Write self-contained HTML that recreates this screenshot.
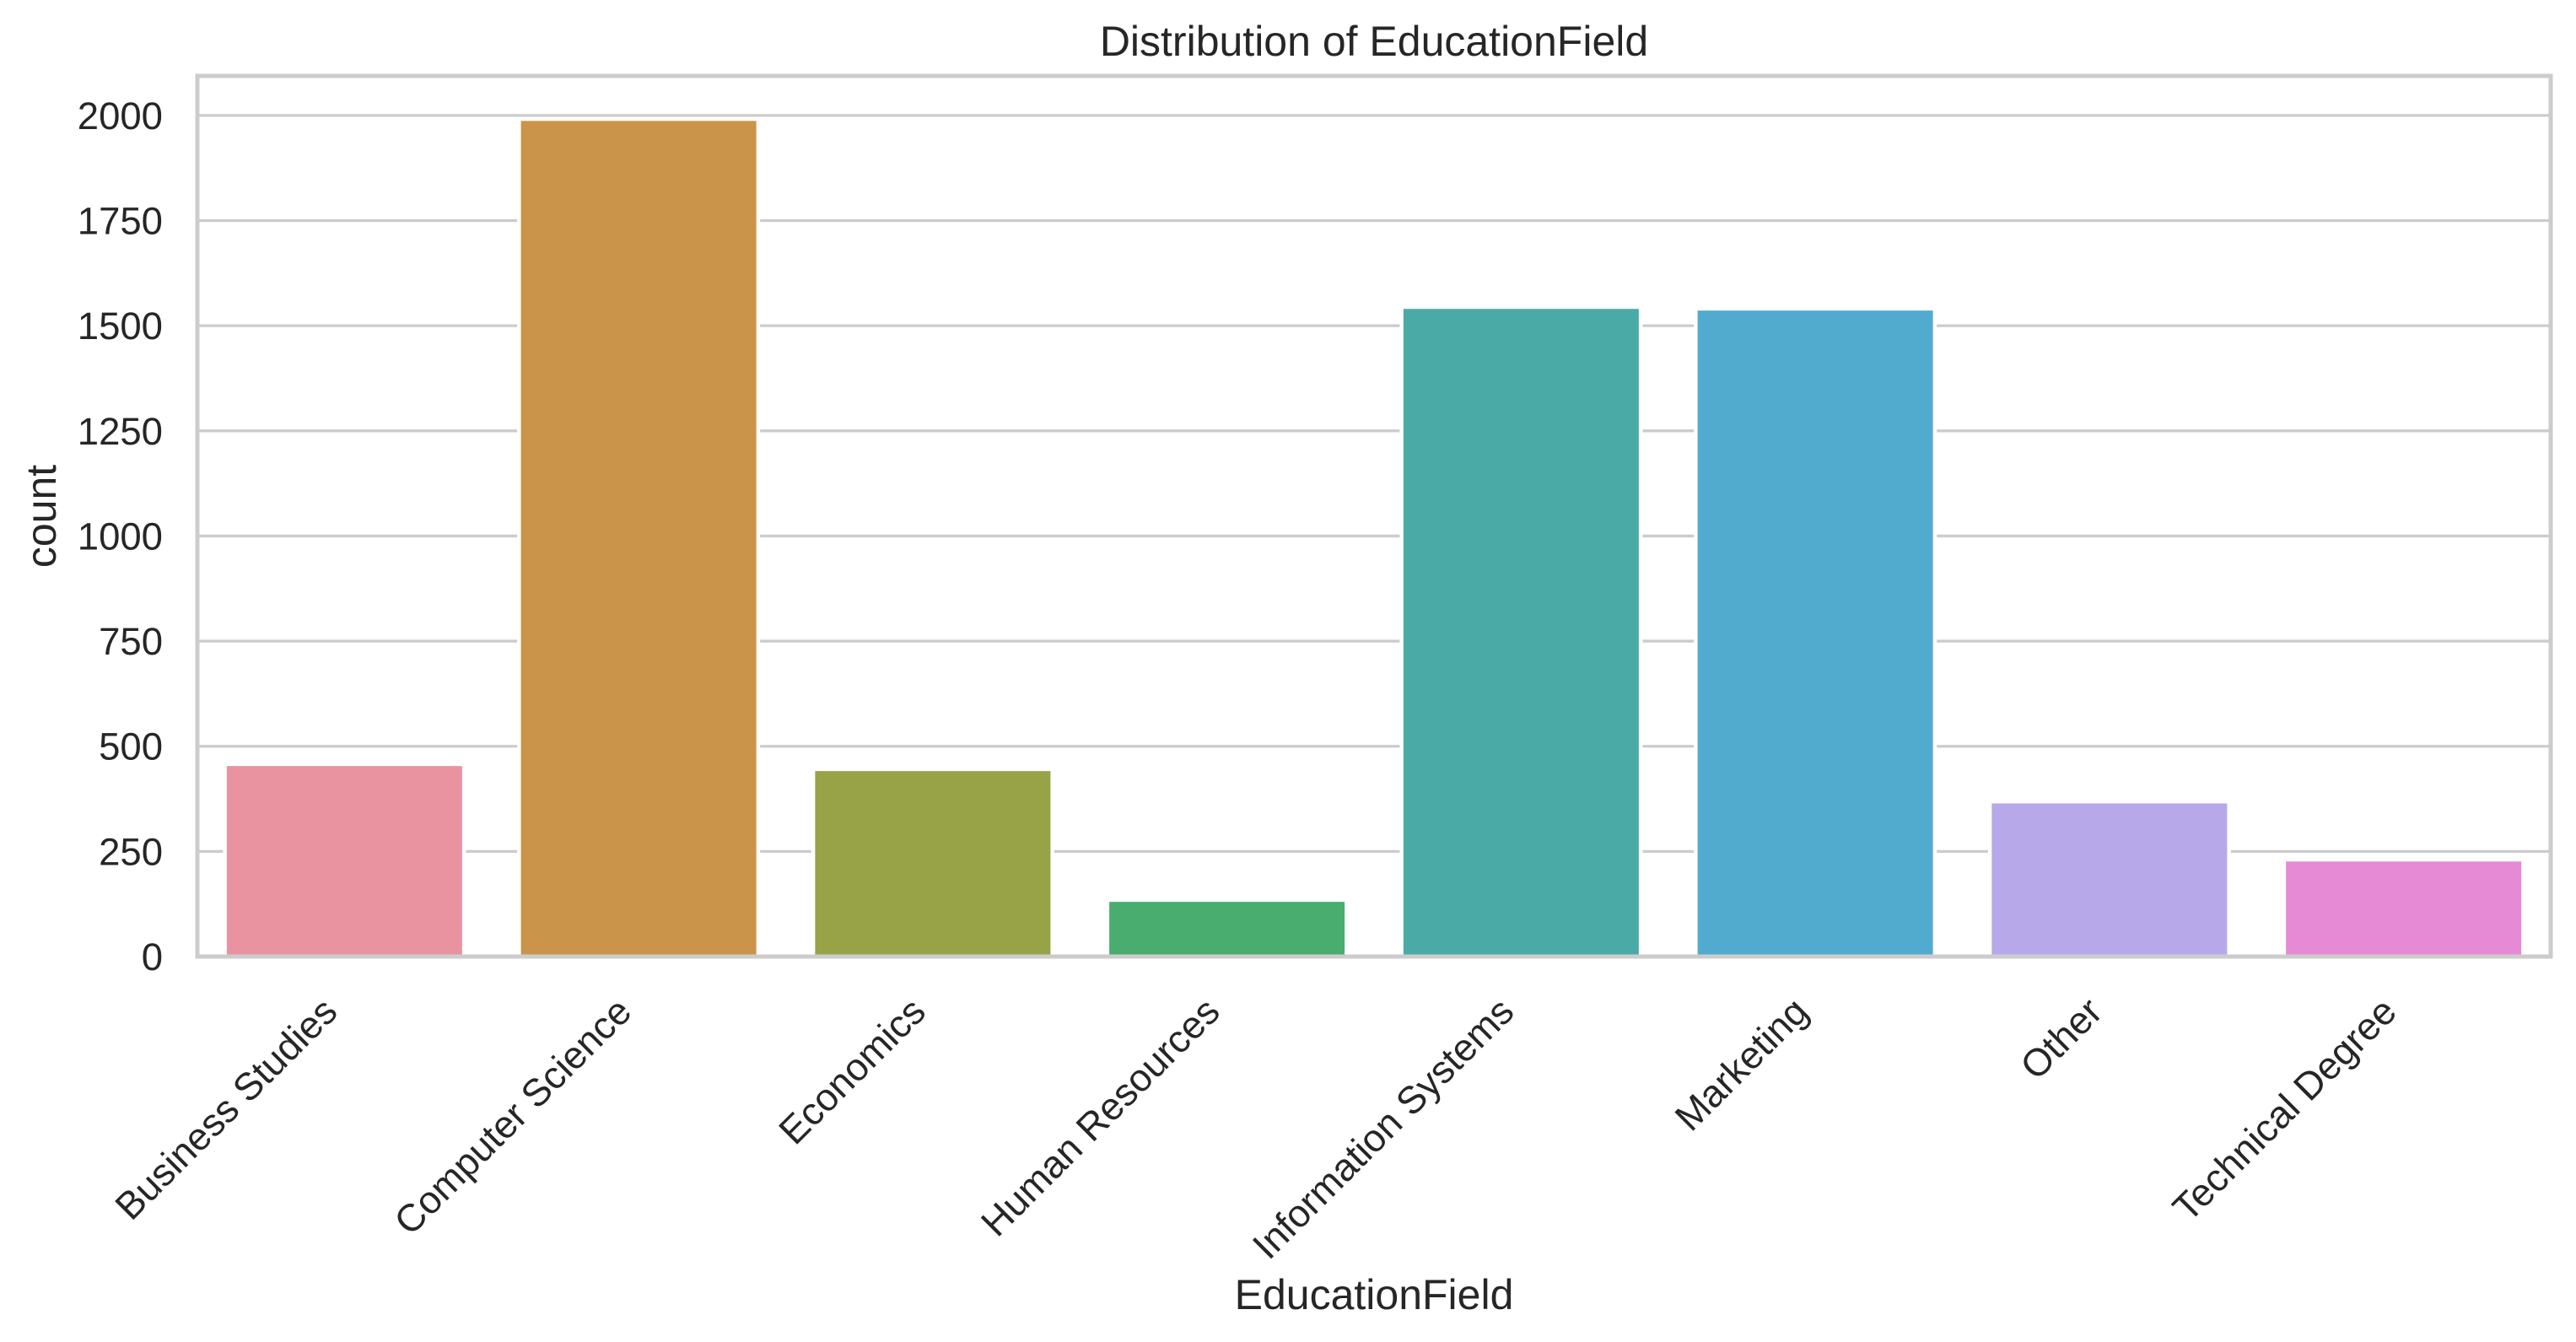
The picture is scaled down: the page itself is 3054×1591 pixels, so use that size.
<!DOCTYPE html>
<html><head><meta charset="utf-8"><style>
html,body{margin:0;padding:0;background:#fff;}
svg{display:block;}
text{font-family:"Liberation Sans",Arial,sans-serif;fill:#262626;}
</style></head><body>
<svg id="chart" width="3054" height="1591" viewBox="0 0 3054 1591" xmlns="http://www.w3.org/2000/svg">
<rect width="3054" height="1591" fill="#fff"/>
<g id="grid"></g>
<g id="bars"></g>
<g id="spines"></g>
<g id="yticks"></g>
<g id="xticks"></g>
<text x="1629" y="66" font-size="50" text-anchor="middle">Distribution of EducationField</text>
<text x="0" y="0" font-size="50" text-anchor="middle" transform="translate(66,612) rotate(-90)">count</text>
<text x="1629" y="1552" font-size="50" text-anchor="middle">EducationField</text>
</svg>
<script>
const categories = ["Business Studies","Computer Science","Economics","Human Resources","Information Systems","Marketing","Other","Technical Degree"];
const counts = [453, 1987, 441, 130, 1540, 1536, 364, 226];
const colors = ["#e8939f","#ca954a","#98a348","#48ad6f","#4aaaa6","#51abcf","#b6a8e9","#e68ad6"];
const yTicks = [0,250,500,750,1000,1250,1500,1750,2000];

const NS = "http://www.w3.org/2000/svg";
const L = 234, R = 3024, T = 90, B = 1134;
const yMin = 0, yMax = 2094;
const band = (R - L) / categories.length;
function xCenter(i){ return L + band * (i + 0.5); }
function yPos(v){ return B - (v - yMin) / (yMax - yMin) * (B - T); }
function mk(tag, attrs, parent){
  const e = document.createElementNS(NS, tag);
  for (const k in attrs) e.setAttribute(k, attrs[k]);
  parent.appendChild(e);
  return e;
}
const grid = document.getElementById('grid');
const barsG = document.getElementById('bars');
const spines = document.getElementById('spines');
const yt = document.getElementById('yticks');
const xt = document.getElementById('xticks');

yTicks.forEach(v => {
  const y = yPos(v);
  const g = mk('line', {x1:L, x2:R, y1:y, y2:y, stroke:'#cccccc', 'stroke-width':3.3}, grid);
  
  
  const t = mk('text', {x:193, y:y+16, 'font-size':45.5, 'text-anchor':'end'}, yt);
  t.textContent = v;
  
  
});

categories.forEach((c, i) => {
  const w = band * 0.8;
  const x = xCenter(i) - w / 2;
  const y = yPos(counts[i]);
  const bg = mk('rect', {x:x-4.5, y:y-4.5, width:w+9, height:B-y+4.5, fill:'#fff'}, barsG);
  
  
  const r = mk('rect', {x:x, y:y, width:w, height:B-y, fill:colors[i]}, barsG);
  
  
  const px = xCenter(i) - 6, py = 1202;
  const t = mk('text', {x:0, y:0, 'font-size':45.5, 'text-anchor':'end', transform:'translate(' + px + ',' + py + ') rotate(-45)'}, xt);
  t.textContent = c;
  
  
});

const sp = mk('rect', {x:L, y:T, width:R-L, height:B-T, fill:'none', stroke:'#cccccc', 'stroke-width':5}, spines);


</script>
</body></html>
